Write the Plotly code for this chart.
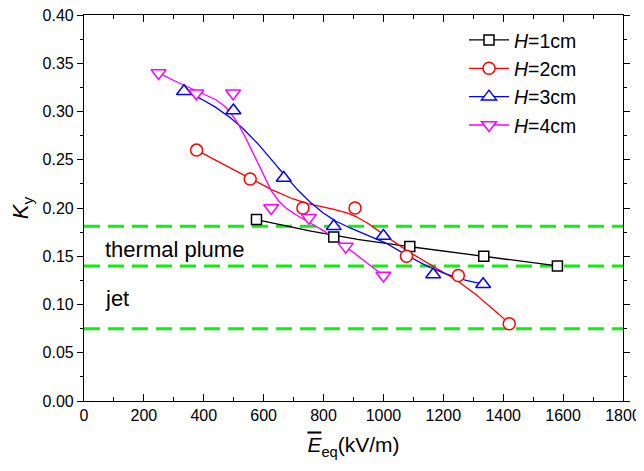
import numpy as np
import plotly.graph_objects as go

# ---- data ----
x_h1 = [576, 834, 1088, 1335, 1581]
y_h1 = [0.188, 0.170, 0.160, 0.150, 0.140]

x_h2 = [376, 555, 731, 905, 1077, 1250, 1420]
y_h2 = [0.260, 0.230, 0.200, 0.200, 0.150, 0.130, 0.080]

x_h3 = [334, 499, 667, 834, 1000, 1166, 1333]
y_h3 = [0.321, 0.301, 0.231, 0.181, 0.171, 0.131, 0.121]

x_h4 = [249, 375, 498, 625, 751, 874, 1000]
y_h4 = [0.340, 0.319, 0.319, 0.200, 0.190, 0.160, 0.130]

series_names = ["<i>H</i>=1cm", "<i>H</i>=2cm", "<i>H</i>=3cm", "<i>H</i>=4cm"]
region_levels = [0.181, 0.140, 0.075]
region_labels = ["thermal plume", "jet"]
region_label_y = [0.157, 0.106]

FONT = "Liberation Sans, Arial, sans-serif"


def bspline(xs, ys, degree=3, n=300):
    """Clamped uniform B-spline using the data points as control points."""
    P = np.column_stack([xs, ys]).astype(float)
    m = len(P)
    k = min(degree, m - 1)
    inner = np.linspace(0, 1, m - k + 1)
    knots = np.concatenate([np.zeros(k), inner, np.ones(k)])
    t = np.linspace(0, 1, n)
    t[-1] = 1 - 1e-12
    N = np.zeros((n, len(knots) - 1))
    for i in range(len(knots) - 1):
        N[:, i] = (t >= knots[i]) & (t < knots[i + 1])
    for d in range(1, k + 1):
        Nn = np.zeros((n, len(knots) - 1 - d))
        for i in range(len(knots) - 1 - d):
            a = knots[i + d] - knots[i]
            b = knots[i + d + 1] - knots[i + 1]
            term = np.zeros(n)
            if a > 0:
                term += (t - knots[i]) / a * N[:, i]
            if b > 0:
                term += (knots[i + d + 1] - t) / b * N[:, i + 1]
            Nn[:, i] = term
        N = Nn
    C = N @ P
    C[-1] = P[-1]
    return C[:, 0], C[:, 1]


fig = go.Figure()

styles = [
    (x_h1, y_h1, "black", "square", 10),
    (x_h2, y_h2, "red", "circle", 12),
    (x_h3, y_h3, "blue", "triangle-up", 13),
    (x_h4, y_h4, "#ff00ff", "triangle-down", 13),
]

for lvl in region_levels:
    fig.add_shape(type="line", xref="paper", x0=0, x1=1, yref="y", y0=lvl, y1=lvl,
                  line=dict(color="#11ee11", width=3, dash="16px,8px"), layer="below")

for (xs, ys, col, sym, sz), name in zip(styles, series_names):
    cx, cy = bspline(xs, ys)
    fig.add_trace(go.Scatter(
        x=cx, y=cy, mode="lines", showlegend=False, hoverinfo="skip",
        line=dict(color=col, width=1.3),
    ))
for (xs, ys, col, sym, sz), name in zip(styles, series_names):
    fig.add_trace(go.Scatter(
        x=xs, y=ys, mode="markers", showlegend=False,
        marker=dict(symbol=sym, size=sz, color="white",
                    line=dict(color=col, width=1.5)),
    ))
for (xs, ys, col, sym, sz), name in zip(styles, series_names):
    fig.add_trace(go.Scatter(
        x=[None], y=[None], name=name, mode="lines+markers",
        line=dict(color=col, width=1.3),
        marker=dict(symbol=sym, size=sz, color="white",
                    line=dict(color=col, width=1.5)),
    ))

for txt, yy in zip(region_labels, region_label_y):
    fig.add_annotation(x=62, y=yy, xref="x", yref="y", text=txt, showarrow=False,
                       xanchor="left", yanchor="middle",
                       font=dict(family=FONT, size=22, color="black"))

# page body has an 8px margin, so the figure is sized/positioned to compensate
fig.update_layout(
    width=636, height=463,
    margin=dict(l=76, r=21, t=7, b=70),
    paper_bgcolor="white", plot_bgcolor="white",
    font=dict(family=FONT, size=16, color="black"),
    showlegend=True,
    legend=dict(x=0.705, y=0.985, xanchor="left", yanchor="top",
                bgcolor="rgba(0,0,0,0)", font=dict(size=19.5, family=FONT),
                tracegroupgap=0, itemwidth=40),
)

fig.update_xaxes(
    range=[0, 1800], dtick=200, tick0=0, automargin=False,
    ticklabeloverflow="allow",
    showgrid=False, zeroline=False,
    showline=True, linecolor="black", linewidth=1.2, mirror="ticks",
    ticks="inside", ticklen=7, tickwidth=1.2, tickcolor="black",
    minor=dict(dtick=100, ticks="inside", ticklen=4, tickwidth=1.2, tickcolor="black"),
    tickfont=dict(size=16, family=FONT),
    title=dict(text="<span style='text-decoration:overline'><i>E</i></span><sub>eq</sub>(kV/m)",
               font=dict(size=21, family=FONT), standoff=14),
)

fig.update_yaxes(
    range=[0, 0.4], dtick=0.05, tick0=0, tickformat=".2f", automargin=False,
    ticklabeloverflow="allow",
    showgrid=False, zeroline=False,
    showline=True, linecolor="black", linewidth=1.2, mirror="ticks",
    ticks="outside", ticklen=6, tickwidth=1.2, tickcolor="black",
    minor=dict(dtick=0.025, ticks="outside", ticklen=3, tickwidth=1.2, tickcolor="black"),
    tickfont=dict(size=16, family=FONT),
    title=dict(text="<i>K</i><sub>y</sub>", font=dict(size=22, family=FONT), standoff=16),
)

fig.write_html("out.html")
